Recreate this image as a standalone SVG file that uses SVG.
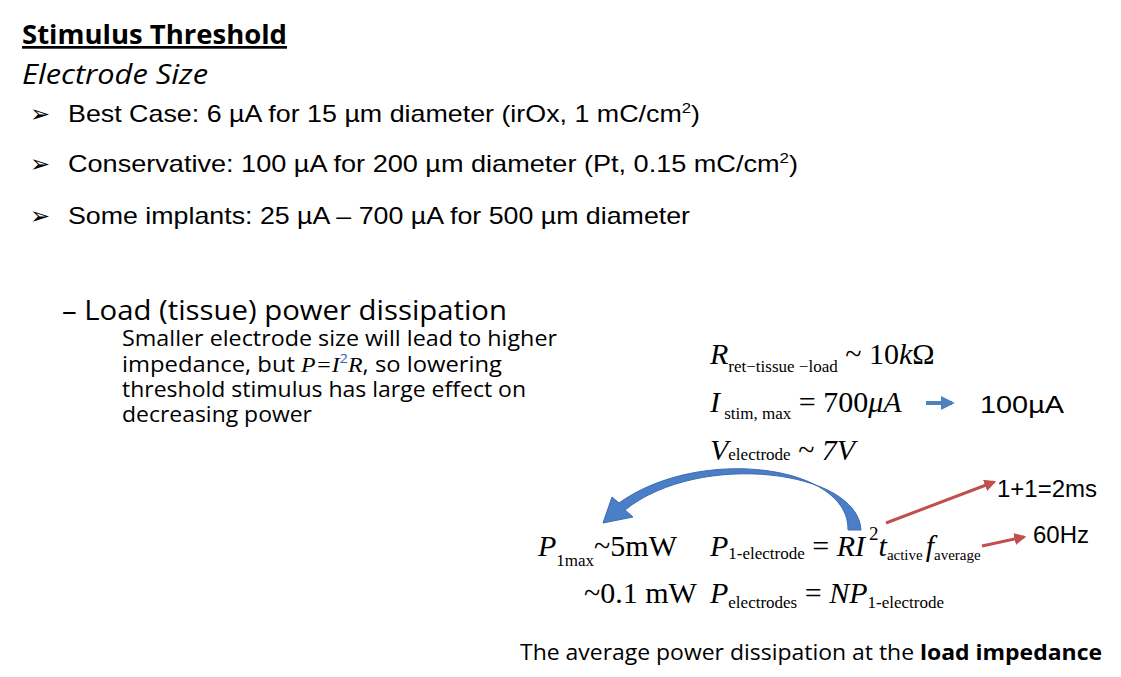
<svg xmlns="http://www.w3.org/2000/svg" width="1121" height="677" viewBox="0 0 1121 677">
<defs>
<style>
.c{font-family:"Open Sans","Liberation Sans",sans-serif;fill:#000}
.a{font-family:"Liberation Sans",Arial,sans-serif;fill:#000;font-size:24px}
.m{font-family:"Liberation Serif","Times New Roman",serif;fill:#000;font-size:30px;font-style:italic}
.s{font-style:normal;font-size:17px}
.t{font-style:normal;font-size:15px}
.n{font-style:normal}
</style>
<marker id="rh" viewBox="0 0 10 10" refX="8" refY="5" markerWidth="4" markerHeight="4" orient="auto"><path d="M0,0 L10,5 L0,10 z" fill="#c0504d"/></marker>
<marker id="bh" viewBox="0 0 10 10" refX="8" refY="5" markerWidth="3.5" markerHeight="3.5" orient="auto"><path d="M0,0 L10,5 L0,10 z" fill="#4f81bd"/></marker>
</defs>
<rect width="1121" height="677" fill="#fff"/>
<g id="title">
<text class="c" x="22" y="44" font-size="27" font-weight="bold" text-decoration="underline" textLength="265" lengthAdjust="spacingAndGlyphs">Stimulus Threshold</text>
<text class="c" x="22" y="84" font-size="27" font-style="italic" textLength="186" lengthAdjust="spacingAndGlyphs">Electrode Size</text>
</g>
<g id="bullets">
<text class="a" x="30" y="122">➢</text><text class="a" x="68" y="122" textLength="632" lengthAdjust="spacingAndGlyphs">Best Case: 6 µA for 15 µm diameter (irOx, 1 mC/cm<tspan font-size="15" dy="-9">2</tspan><tspan dy="9">)</tspan></text>
<text class="a" x="30" y="172">➢</text><text class="a" x="68" y="172" textLength="730" lengthAdjust="spacingAndGlyphs">Conservative: 100 µA for 200 µm diameter  (Pt, 0.15 mC/cm<tspan font-size="15" dy="-9">2</tspan><tspan dy="9">)</tspan></text>
<text class="a" x="30" y="224">➢</text><text class="a" x="68" y="224" textLength="622" lengthAdjust="spacingAndGlyphs">Some implants: 25 µA – 700 µA for 500 µm diameter</text>
</g>
<g id="load">
<text class="c" x="62" y="320" font-size="27" textLength="445" lengthAdjust="spacingAndGlyphs">– Load (tissue) power dissipation</text>
<text class="c" x="122" y="346" font-size="21" textLength="435" lengthAdjust="spacingAndGlyphs">Smaller electrode size will lead to higher</text>
<text class="c" x="122" y="372" font-size="21" textLength="380" lengthAdjust="spacingAndGlyphs">impedance, but <tspan font-family="Liberation Serif" font-style="italic">P=I</tspan><tspan font-size="13" dy="-9" fill="#3060c0">2</tspan><tspan dy="9" font-family="Liberation Serif" font-style="italic">R</tspan>, so lowering</text>
<text class="c" x="122" y="397" font-size="21" textLength="404" lengthAdjust="spacingAndGlyphs">threshold stimulus has large effect on</text>
<text class="c" x="122" y="422" font-size="21" textLength="190" lengthAdjust="spacingAndGlyphs">decreasing power</text>
</g>
<g id="equations">
<text class="m" x="710" y="364">R<tspan class="s" dy="8">ret−tissue −load</tspan><tspan class="n" dy="-8"> ~ 10</tspan>k<tspan class="n">Ω</tspan></text>
<text class="m" x="710" y="412">I<tspan class="s" dy="7"> stim, max</tspan><tspan class="n" dy="-7"> = 700</tspan>μA</text>
<text class="a" x="980" y="413" font-size="30" textLength="84" lengthAdjust="spacingAndGlyphs">100µA</text>
<text class="m" x="710" y="460">V<tspan class="s" dy="0">electrode</tspan><tspan class="n"> ~ </tspan>7V</text>
<text class="m" x="538" y="556">P<tspan class="s n" dy="10">1max</tspan><tspan class="n" dy="-10">~5mW</tspan></text>
<text class="m" x="710" y="556">P<tspan class="s" dy="3">1-electrode</tspan><tspan class="n" dy="-3"> = </tspan>RI<tspan class="n" font-size="19" dx="4" dy="-16">2</tspan><tspan dy="16">t</tspan><tspan class="t" dy="4">active</tspan><tspan dy="-4" dx="3">f</tspan><tspan class="t" dy="4">average</tspan></text>
<text class="m" x="584" y="603"><tspan class="n">~0.1 mW</tspan></text>
<text class="m" x="710" y="603">P<tspan class="s" dy="5">electrodes</tspan><tspan class="n" dy="-5"> = </tspan>NP<tspan class="s" dy="5">1-electrode</tspan></text>
<text class="a" x="997" y="497" font-size="20">1+1=2ms</text>
<text class="a" x="1033" y="543" font-size="20">60Hz</text>
</g>
<g id="connectors">
<line x1="926" y1="403" x2="952" y2="403" stroke="#4f81bd" stroke-width="4" marker-end="url(#bh)"/>
<line x1="886" y1="523" x2="994" y2="482" stroke="#c0504d" stroke-width="3" marker-end="url(#rh)"/>
<line x1="982" y1="546" x2="1024" y2="537" stroke="#c0504d" stroke-width="3" marker-end="url(#rh)"/>
<path d="M861,530 C858,470 700,450 625,510 L633,517 L603,523 L612,497 L619,503 C700,445 850,465 848,530 Z" fill="#4a7fc8" stroke="#3b6cb0" stroke-width="1"/>
</g>
<g id="footer">
<text class="c" x="520" y="660" font-size="22" textLength="582" lengthAdjust="spacingAndGlyphs">The average power dissipation at the <tspan font-weight="bold">load impedance</tspan></text>
</g>
</svg>
